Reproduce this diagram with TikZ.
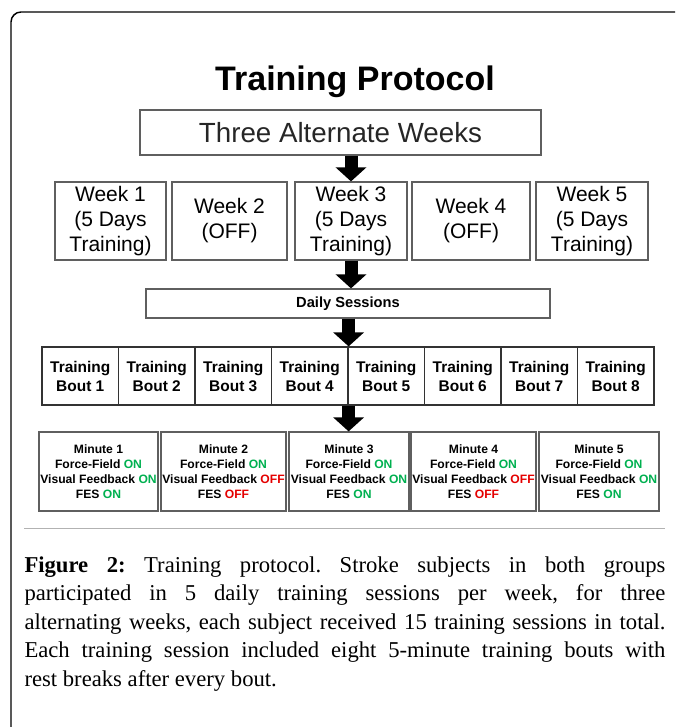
\documentclass[tikz,border=0pt]{standalone}
\usepackage{fontspec}
\setmainfont{Liberation Serif}
\setsansfont{Liberation Sans}
\usetikzlibrary{arrows.meta}
\frenchspacing

\definecolor{ongreen}{RGB}{0,176,80}
\definecolor{offred}{RGB}{228,0,0}
\definecolor{boxgray}{RGB}{95,95,95}
\newcommand{\onstate}{\textcolor{ongreen}{ON}}
\newcommand{\offstate}{\textcolor{offred}{OFF}}

\tikzset{every picture/.style={line width=0.75pt}}
\tikzset{
  plainbox/.style={draw=boxgray, line width=0.9pt, inner sep=0pt, align=center},
  weekbox/.style={plainbox, minimum height=58.5pt, font=\sffamily\fontsize{15.75}{18.75}\selectfont},
  boutbox/.style={plainbox, draw=black!80, minimum width=57.375pt, minimum height=43.5pt, font=\sffamily\bfseries\fontsize{11.6}{14.25}\selectfont},
  minbox/.style={plainbox, minimum height=59.25pt, font=\sffamily\bfseries\fontsize{9.1}{11.25}\selectfont},
  blockarrow/.style={line width=9.75pt, -{Triangle[width=22.5pt,length=10.5pt]}},
}

\begin{document}
\begin{tikzpicture}[x=0.75pt,y=0.75pt,yscale=-1,xscale=1]
\useasboundingbox (0,0) rectangle (675,727);

%Shape: outer frame
\draw [line width=1.1pt, rounded corners=7.5pt] (11,727) -- (11,12) -- (675,12) ;

% Text Node
\node (title) at (355,82) [font=\sffamily\bfseries\fontsize{25.5}{30}\selectfont] {Training Protocol};
% Text Node
\node (three) at (340.5,132.5) [plainbox, minimum width=300.75pt, minimum height=33.75pt, font=\sffamily\fontsize{20.8}{24}\selectfont, text=black!85] {Three Alternate Weeks};

% Weeks
\node (week1) at (110.5,221) [weekbox, minimum width=83.25pt] {Week 1\\(5 Days\\Training)};
\node (week2) at (229.5,221) [weekbox, minimum width=86.25pt] {Week 2\\(OFF)};
\node (week3) at (351,221) [weekbox, minimum width=84pt] {Week 3\\(5 Days\\Training)};
\node (week4) at (471,221) [weekbox, minimum width=88.5pt] {Week 4\\(OFF)};
\node (week5) at (592,221) [weekbox, minimum width=84pt] {Week 5\\(5 Days\\Training)};

% Text Node
\node (daily) at (348,303.5) [plainbox, minimum width=303pt, minimum height=21.75pt, font=\sffamily\bfseries\fontsize{11}{13}\selectfont] {Daily Sessions};

% Bouts
\foreach \i in {1,...,8}
  \node (bout\i) at ({42+76.5*(\i-0.5)},376) [boutbox] {Training\\Bout \i};

% Minutes
\node (min1) at (98.5,471.5) [minbox, minimum width=89.25pt] {Minute 1\\Force-Field \onstate\\Visual Feedback \onstate\\FES \onstate};
\node (min2) at (223.5,471.5) [minbox, minimum width=93.75pt] {Minute 2\\Force-Field \onstate\\Visual Feedback \offstate\\FES \offstate};
\node (min3) at (349,471.5) [minbox, minimum width=90pt] {Minute 3\\Force-Field \onstate\\Visual Feedback \onstate\\FES \onstate};
\node (min4) at (473.5,471.5) [minbox, minimum width=93.75pt] {Minute 4\\Force-Field \onstate\\Visual Feedback \offstate\\FES \offstate};
\node (min5) at (599,471.5) [minbox, minimum width=90pt] {Minute 5\\Force-Field \onstate\\Visual Feedback \onstate\\FES \onstate};

% Arrows
\draw [blockarrow] (three.south -| week3.north) -- (week3.north);
\draw [blockarrow] (week3.south) -- (week3.south |- daily.north);
\draw [blockarrow] (daily.south -| bout4.north east) -- (bout4.north east);
\draw [blockarrow] (bout4.south east) -- (bout4.south east |- min3.north);

%Straight Lines: rule
\draw [draw=black!30] (24,528) -- (665,528) ;

% Text Node
\node (caption) at (24,556) [anchor=north west, inner sep=0pt, text width=480.75pt, align=justify, font=\fontsize{17}{21.4}\selectfont] {\textbf{Figure 2:} Training protocol. Stroke subjects in both groups\linebreak participated in 5 daily training sessions per week, for three\linebreak alternating weeks, each subject received 15 training sessions in total.\linebreak Each training session included eight 5-minute training bouts with\linebreak rest breaks after every bout.};

\end{tikzpicture}
\end{document}
